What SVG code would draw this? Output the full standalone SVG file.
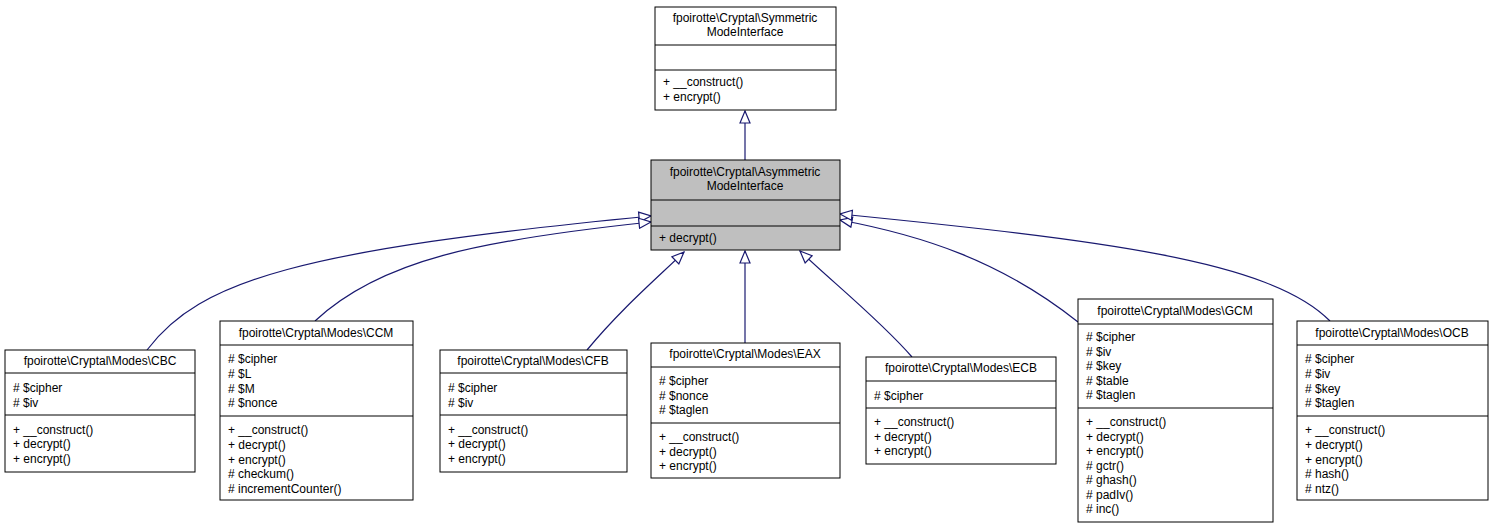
<svg xmlns="http://www.w3.org/2000/svg" width="1493" height="529" viewBox="0 0 1493 529">
<style>
text{font-family:"Liberation Sans",Arial,sans-serif;font-size:12px;fill:#000}
.n{fill:#fff;stroke:#000;stroke-width:1}
.g{fill:#bfbfbf;stroke:#000;stroke-width:1}
.l{stroke:#000;stroke-width:1}
.e{fill:none;stroke:#191970;stroke-width:1.2;marker-end:url(#a)}
.c{text-anchor:middle}
</style>
<defs><marker id="a" markerWidth="14" markerHeight="12" refX="13" refY="6" orient="auto" markerUnits="userSpaceOnUse"><path d="M1,1 L13,6 L1,11 Z" fill="#fff" stroke="#191970" stroke-width="1.2"/></marker></defs>
<rect width="1493" height="529" fill="#fff"/>
<g id="edges">
<path class="e" d="M745,160 L745,111"/>
<path class="e" d="M147,350 C200,280 300,250 651,216"/>
<path class="e" d="M315,321 C380,260 480,240 651,222"/>
<path class="e" d="M587,350 C620,310 655,280 684,252"/>
<path class="e" d="M745,343 L745,251"/>
<path class="e" d="M912,357 C880,320 830,280 800,251"/>
<path class="e" d="M1078,322 C1000,260 920,235 840,220"/>
<path class="e" d="M1330,321 C1270,260 1100,240 840,214"/>
</g>
<g id="sym"><rect class="n" x="655" y="7" width="181" height="103"/><text class="c" x="745" y="22">fpoirotte\Cryptal\Symmetric</text><text class="c" x="745" y="36">ModeInterface</text><line class="l" x1="655" y1="45" x2="836" y2="45"/><line class="l" x1="655" y1="70" x2="836" y2="70"/><text x="663" y="86">+ __construct()</text><text x="663" y="101">+ encrypt()</text></g>
<g id="asym"><rect class="g" x="651" y="160" width="189" height="90"/><text class="c" x="745" y="176">fpoirotte\Cryptal\Asymmetric</text><text class="c" x="745" y="190">ModeInterface</text><line class="l" x1="651" y1="200" x2="840" y2="200"/><line class="l" x1="651" y1="226" x2="840" y2="226"/><text x="659" y="242">+ decrypt()</text></g>
<g id="cbc"><rect class="n" x="5" y="350" width="190" height="122"/><text class="c" x="100" y="365">fpoirotte\Cryptal\Modes\CBC</text><line class="l" x1="5" y1="373" x2="195" y2="373"/><text x="13" y="392"># $cipher</text><text x="13" y="407"># $iv</text><line class="l" x1="5" y1="415" x2="195" y2="415"/><text x="13" y="434">+ __construct()</text><text x="13" y="448">+ decrypt()</text><text x="13" y="463">+ encrypt()</text></g>
<g id="ccm"><rect class="n" x="220" y="321" width="193" height="179"/><text class="c" x="316" y="337">fpoirotte\Cryptal\Modes\CCM</text><line class="l" x1="220" y1="345" x2="413" y2="345"/><text x="228" y="363"># $cipher</text><text x="228" y="378"># $L</text><text x="228" y="393"># $M</text><text x="228" y="407"># $nonce</text><line class="l" x1="220" y1="416" x2="413" y2="416"/><text x="228" y="434">+ __construct()</text><text x="228" y="449">+ decrypt()</text><text x="228" y="464">+ encrypt()</text><text x="228" y="478"># checkum()</text><text x="228" y="493"># incrementCounter()</text></g>
<g id="cfb"><rect class="n" x="440" y="350" width="187" height="122"/><text class="c" x="533" y="365">fpoirotte\Cryptal\Modes\CFB</text><line class="l" x1="440" y1="373" x2="627" y2="373"/><text x="448" y="392"># $cipher</text><text x="448" y="407"># $iv</text><line class="l" x1="440" y1="415" x2="627" y2="415"/><text x="448" y="434">+ __construct()</text><text x="448" y="448">+ decrypt()</text><text x="448" y="463">+ encrypt()</text></g>
<g id="eax"><rect class="n" x="651" y="343" width="189" height="135"/><text class="c" x="745" y="358">fpoirotte\Cryptal\Modes\EAX</text><line class="l" x1="651" y1="367" x2="840" y2="367"/><text x="659" y="385"># $cipher</text><text x="659" y="400"># $nonce</text><text x="659" y="414"># $taglen</text><line class="l" x1="651" y1="423" x2="840" y2="423"/><text x="659" y="441">+ __construct()</text><text x="659" y="456">+ decrypt()</text><text x="659" y="470">+ encrypt()</text></g>
<g id="ecb"><rect class="n" x="866" y="357" width="190" height="107"/><text class="c" x="961" y="372">fpoirotte\Cryptal\Modes\ECB</text><line class="l" x1="866" y1="381" x2="1056" y2="381"/><text x="874" y="400"># $cipher</text><line class="l" x1="866" y1="408" x2="1056" y2="408"/><text x="874" y="426">+ __construct()</text><text x="874" y="441">+ decrypt()</text><text x="874" y="455">+ encrypt()</text></g>
<g id="gcm"><rect class="n" x="1078" y="299" width="195" height="223"/><text class="c" x="1175" y="315">fpoirotte\Cryptal\Modes\GCM</text><line class="l" x1="1078" y1="324" x2="1273" y2="324"/><text x="1086" y="341"># $cipher</text><text x="1086" y="356"># $iv</text><text x="1086" y="370"># $key</text><text x="1086" y="385"># $table</text><text x="1086" y="399"># $taglen</text><line class="l" x1="1078" y1="408" x2="1273" y2="408"/><text x="1086" y="426">+ __construct()</text><text x="1086" y="441">+ decrypt()</text><text x="1086" y="455">+ encrypt()</text><text x="1086" y="470"># gctr()</text><text x="1086" y="484"># ghash()</text><text x="1086" y="499"># padIv()</text><text x="1086" y="513"># inc()</text></g>
<g id="ocb"><rect class="n" x="1297" y="321" width="191" height="179"/><text class="c" x="1392" y="337">fpoirotte\Cryptal\Modes\OCB</text><line class="l" x1="1297" y1="345" x2="1488" y2="345"/><text x="1305" y="363"># $cipher</text><text x="1305" y="378"># $iv</text><text x="1305" y="393"># $key</text><text x="1305" y="407"># $taglen</text><line class="l" x1="1297" y1="416" x2="1488" y2="416"/><text x="1305" y="434">+ __construct()</text><text x="1305" y="449">+ decrypt()</text><text x="1305" y="464">+ encrypt()</text><text x="1305" y="478"># hash()</text><text x="1305" y="493"># ntz()</text></g>
</svg>
